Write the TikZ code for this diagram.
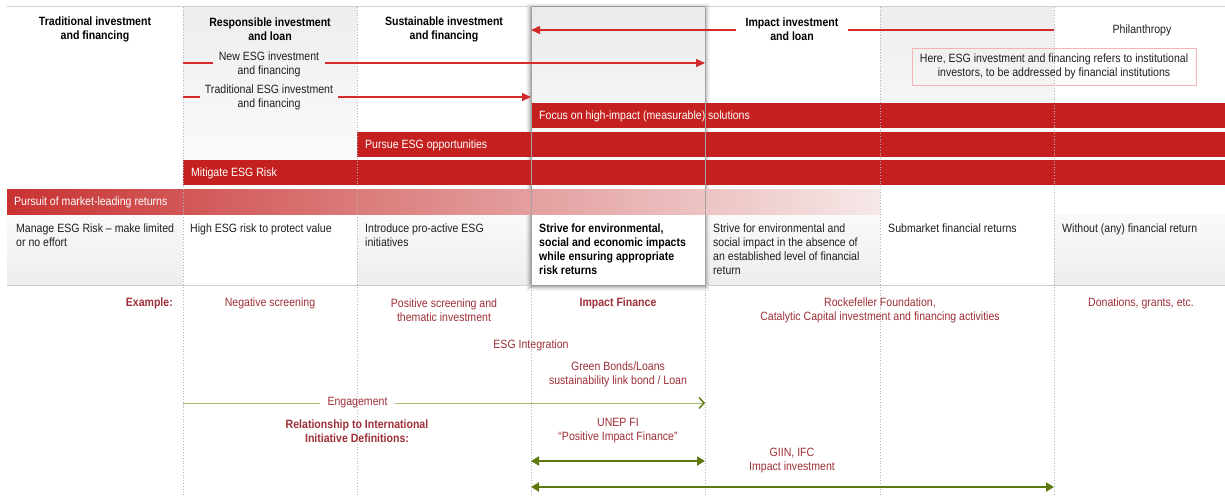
\documentclass[tikz,border=0pt]{standalone}
\usepackage{fontspec}
\setmainfont{Liberation Sans}[FakeStretch=0.88]
\usetikzlibrary{arrows.meta}
\definecolor{barred}{HTML}{C3201F}
\definecolor{arrred}{HTML}{D32B2B}
\definecolor{exred}{HTML}{9E3038}
\definecolor{olivedark}{HTML}{5E7A0C}
\definecolor{olivelight}{HTML}{A9B46C}
\definecolor{dotgray}{HTML}{B4B4B4}
\definecolor{linegray}{HTML}{CFCFCF}
\definecolor{notebd}{HTML}{F2B4B4}
\definecolor{fadered}{HTML}{F6E8E8}
\begin{document}
\begin{tikzpicture}[x=1pt,y=-1pt,
  txt/.style={font=\fontsize{12}{14}\selectfont, inner sep=0pt, align=center, text=black!88},
  hdr/.style={txt, font=\fontsize{12}{14}\selectfont\bfseries, text=black},
  desc/.style={txt, align=left, anchor=north west},
  ex/.style={txt, text=exred},
  exb/.style={ex, font=\fontsize{12}{14}\selectfont\bfseries},
  barlbl/.style={txt, text=white, anchor=west},
  redarr/.style={draw=arrred, line width=1.4pt},
  redtip/.style={-{Triangle[length=9pt,width=8pt]}},
  grnarr/.style={draw=olivedark, line width=2.4pt, {Triangle[length=8pt,width=9pt]}-{Triangle[length=8pt,width=9pt]}},
  engline/.style={draw=olivelight, line width=1pt}
]
\useasboundingbox (0,0) rectangle (1225,496);
\fill[white] (0,0) rectangle (1225,496);

% column shading, top area
\fill[top color=black!7, bottom color=black!1] (183,6) rectangle (357,185);
\fill[top color=black!7, bottom color=black!1] (880,6) rectangle (1054,185);
% description row shading
\foreach \a/\b in {7/183, 357/531, 705/880, 1054/1225}
  \fill[top color=black!2, bottom color=black!7] (\a,214) rectangle (\b,285);

% highlighted column 4 with shadow
\foreach \d/\o in {5/0.03, 4/0.04, 3/0.06, 2/0.08, 1/0.11}
  \fill[black, opacity=\o] (531-\d,6-\d+2) rectangle (705+\d,285+\d+1);
\fill[white] (531,6) rectangle (705,285);
\fill[top color=black!8, bottom color=black!1] (531,6) rectangle (705,185);

% horizontal rules
\draw[linegray, line width=1pt] (7,6) -- (1225,6);
\draw[linegray, line width=1pt] (7,285) -- (1225,285);

% bars
\fill[barred] (531,103) rectangle (1225,128);
\fill[barred] (357,132) rectangle (1225,157);
\fill[barred] (183,160) rectangle (1225,185);
\fill[left color=barred!92!white, right color=fadered] (7,189) rectangle (880,214);

% column 4 border on top
\draw[black!40, line width=0.7pt] (531,6) rectangle (705,285);

% dotted column separators
\foreach \x in {183,357,531,705,880,1054}
  \draw[dotgray, dotted, line width=0.8pt] (\x,7) -- (\x,496);

% headers
\node[hdr] (h1) at (95,29) {Traditional investment\\and financing};
\node[hdr] (h2) at (270,29) {Responsible investment\\and loan};
\node[hdr] (h3) at (444,29) {Sustainable investment\\and financing};
\node[hdr, inner xsep=9pt] (h5) at (792,29) {Impact investment\\and loan};
\node[txt] (h7) at (1142,30) {Philanthropy};

% red arrows
\coordinate (ia0) at (1054,30);
\coordinate (ia1) at (531,30);
\draw[redarr] (ia0) -- (h5.east |- ia0);
\draw[redarr, redtip] (h5.west |- ia0) -- (ia1);

\node[txt, inner xsep=6pt] (n1) at (269,64) {New ESG investment\\and financing};
\coordinate (n1s) at (183,63);
\coordinate (n1e) at (705,63);
\draw[redarr] (n1s) -- (n1.west |- n1s);
\draw[redarr, redtip] (n1.east |- n1s) -- (n1e);

\node[txt, inner xsep=5pt] (n2) at (269,97) {Traditional ESG investment\\and financing};
\coordinate (n2s) at (183,97);
\coordinate (n2e) at (531,97);
\draw[redarr] (n2s) -- (n2.west |- n2s);
\draw[redarr, redtip] (n2.east |- n2s) -- (n2e);

% note
\node[txt, draw=notebd, line width=0.8pt, minimum width=284pt, minimum height=37pt] (note) at (1054,66.5)
  {Here, ESG investment and financing refers to institutional\\investors, to be addressed by financial institutions};

% bar labels
\node[barlbl] (b1) at (539,116) {Focus on high-impact (measurable) solutions};
\node[barlbl] (b2) at (365,145) {Pursue ESG opportunities};
\node[barlbl] (b3) at (191,173) {Mitigate ESG Risk};
\node[barlbl] (b4) at (14,202) {Pursuit of market-leading returns};

% descriptions
\node[desc] (d1) at (16,223.5) {Manage ESG Risk -- make limited\\or no effort};
\node[desc] (d2) at (190,223.5) {High ESG risk to protect value};
\node[desc] (d3) at (365,223.5) {Introduce pro-active ESG\\initiatives};
\node[desc, font=\fontsize{12}{14}\selectfont\bfseries, text=black] (d4) at (539,223.5)
  {Strive for environmental,\\social and economic impacts\\while ensuring appropriate\\risk returns};
\node[desc] (d5) at (713,223.5) {Strive for environmental and\\social impact in the absence of\\an established level of financial\\return};
\node[desc] (d6) at (888,223.5) {Submarket financial returns};
\node[desc] (d7) at (1062,223.5) {Without (any) financial return};

% examples
\node[exb, anchor=east] (exl) at (173,303) {Example:};
\node[ex] (ex2) at (270,303) {Negative screening};
\node[ex] (ex3) at (444,310) {Positive screening and\\thematic investment};
\node[exb] (ex4) at (618,303) {Impact Finance};
\node[ex] (ex5) at (880,310) {Rockefeller Foundation,\\Catalytic Capital investment and financing activities};
\node[ex] (ex7) at (1141,303) {Donations, grants, etc.};

\node[ex] (esgi) at (531,345) {ESG Integration};
\node[ex] (gb) at (618,374) {Green Bonds/Loans\\sustainability link bond / Loan};

% engagement
\node[ex, inner xsep=7pt] (eng) at (357.5,403) {Engagement};
\coordinate (e0) at (183,403);
\coordinate (e1) at (705,403);
\draw[engline] (e0) -- (eng.west);
\draw[engline, -{Straight Barb[color=olivedark, line width=1.4pt, length=5pt, width=11pt]}] (eng.east) -- (e1);

\node[exb] (rel) at (357,431) {Relationship to International\\Initiative Definitions:};
\node[ex] (unep) at (618,431) {UNEP FI\\``Positive Impact Finance''};
\node[ex] (giin) at (792,461) {GIIN, IFC\\Impact investment};

\coordinate (u0) at (531,461);
\coordinate (u1) at (705,461);
\draw[grnarr] (u0) -- (u1);
\coordinate (g0) at (531,487);
\coordinate (g1) at (1054,487);
\draw[grnarr] (g0) -- (g1);
\end{tikzpicture}
\end{document}
